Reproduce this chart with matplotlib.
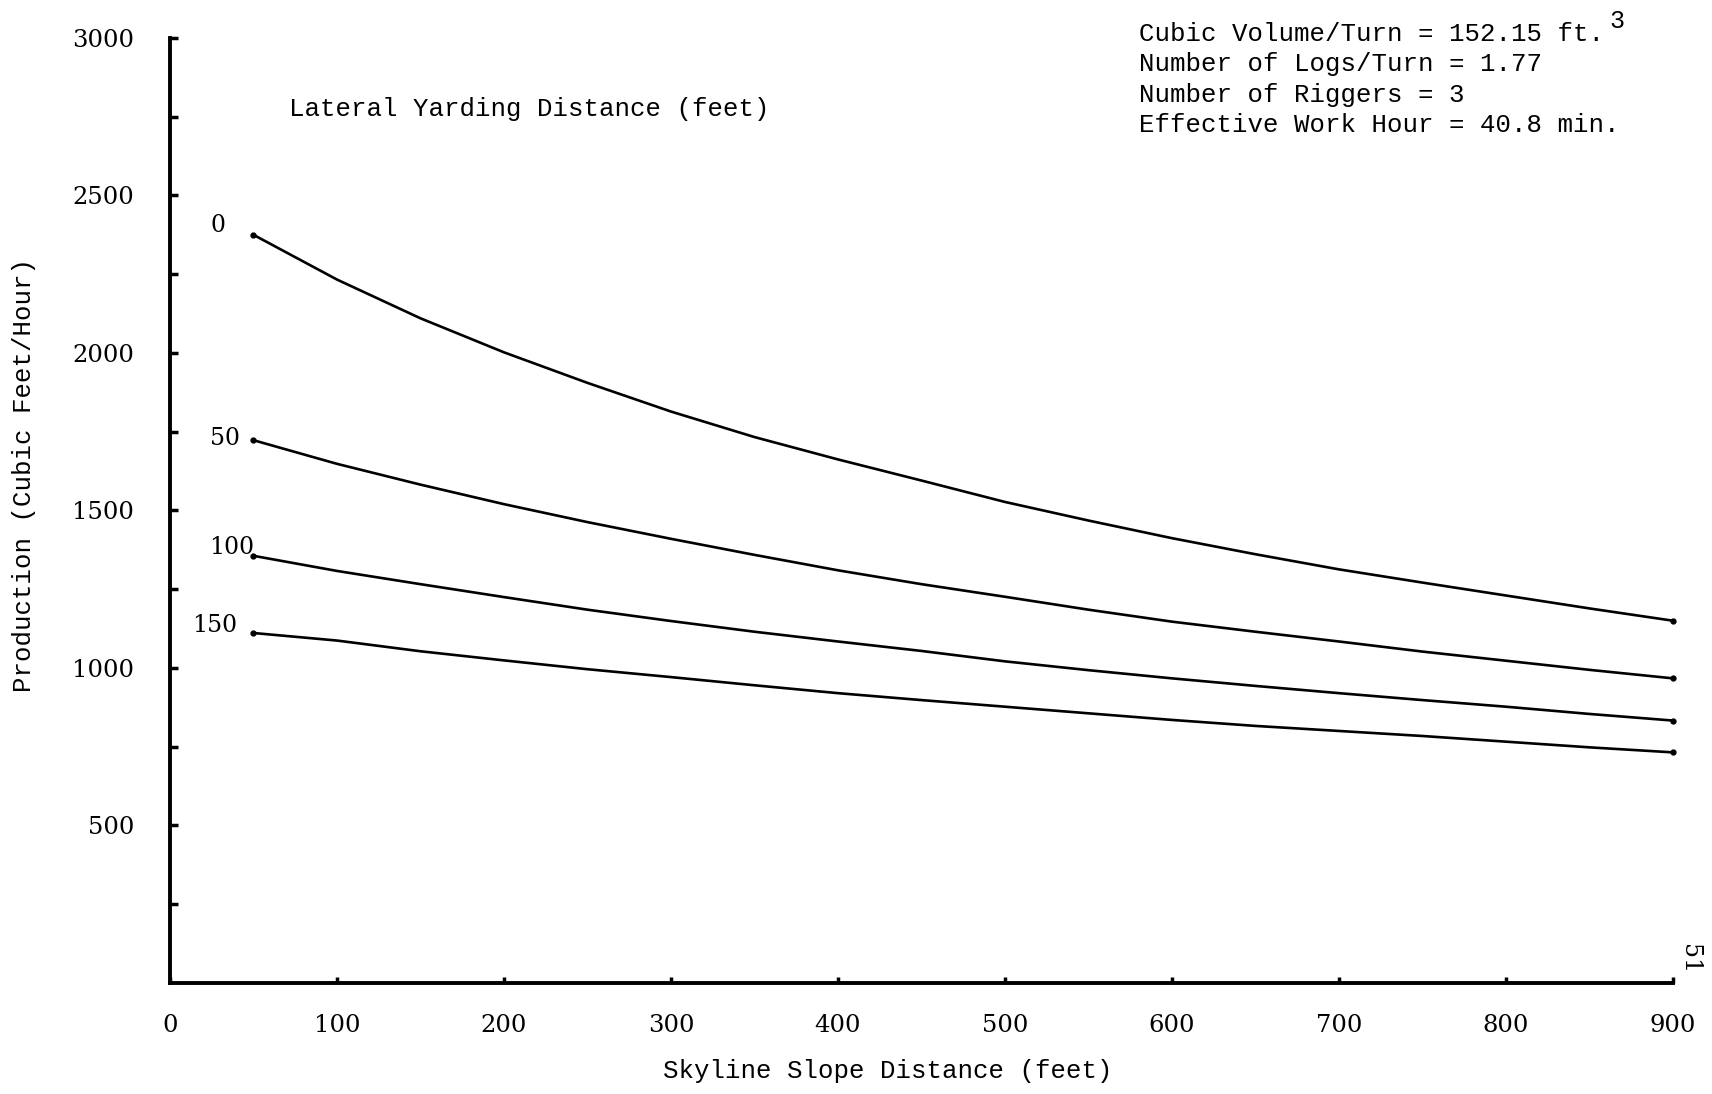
import matplotlib.pyplot as plt

# Skyline slope distance (feet) at which the curves were read
slope_dist = [50, 100, 150, 200, 250, 300, 350, 400, 450,
              500, 550, 600, 650, 700, 750, 800, 850, 900]

# Production (cu ft / hour) for each lateral yarding distance
lateral = ['0', '50', '100', '150']
prod_0 = [2375, 2233, 2110, 2002, 1905, 1814, 1733, 1662, 1595,
          1527, 1468, 1412, 1361, 1313, 1271, 1230, 1189, 1150]
prod_50 = [1723, 1648, 1582, 1520, 1463, 1410, 1359, 1310, 1266,
           1226, 1185, 1147, 1115, 1084, 1052, 1023, 994, 967]
prod_100 = [1356, 1308, 1266, 1225, 1185, 1149, 1115, 1084, 1054,
            1021, 993, 967, 943, 920, 898, 877, 854, 833]
prod_150 = [1111, 1087, 1053, 1024, 996, 971, 945, 920, 898,
            877, 856, 835, 816, 800, 784, 766, 748, 732]
curves = [prod_0, prod_50, prod_100, prod_150]

# where each lateral-distance label sits (x, y in data units)
label_pos = [(29, 2404), (33, 1727), (37, 1384), (27, 1134)]

info_lines = ['Cubic Volume/Turn = 152.15 ft.',
              'Number of Logs/Turn = 1.77',
              'Number of Riggers = 3',
              'Effective Work Hour = 40.8 min.']

y_ticks = list(range(250, 3001, 250))
y_ticklabels = [str(v) if v % 500 == 0 else '' for v in y_ticks]
x_ticks = list(range(0, 901, 100))

mono = 'Liberation Mono'
digits = 'DejaVu Serif'

fig = plt.figure(figsize=(17.12, 10.94), dpi=100)
ax = fig.add_axes([0.0993, 0.1015, 0.8779, 0.8638])

for vals in curves:
    ax.plot(slope_dist, vals, color='black', lw=1.9, marker='o', ms=3.5,
            markevery=[0, len(vals) - 1], clip_on=False)

for lab, (lx, ly) in zip(lateral, label_pos):
    ax.text(lx, ly, lab, fontsize=17, family=digits, ha='center', va='center')

ax.text(71, 2775, 'Lateral Yarding Distance (feet)', fontsize=18.5,
        family=mono, ha='left', va='center')

ax.set_xlim(0, 900)
ax.set_ylim(0, 3000)
for side in ['top', 'right']:
    ax.spines[side].set_visible(False)
for side in ['left', 'bottom']:
    ax.spines[side].set_linewidth(2.8)

ax.set_yticks(y_ticks)
ax.set_yticklabels(y_ticklabels, fontsize=17.5, family=digits)
ax.set_xticks(x_ticks)
ax.set_xticklabels([str(v) for v in x_ticks], fontsize=17.5, family=digits)
ax.tick_params(axis='y', direction='in', length=6, width=2.5, pad=26)
ax.tick_params(axis='x', direction='in', length=4, width=2.5, pad=22)

fig.text(0.014, 0.566, 'Production (Cubic Feet/Hour)', rotation=90,
         fontsize=18.5, family=mono, ha='center', va='center')
fig.text(0.5187, 0.021, 'Skyline Slope Distance (feet)', fontsize=18.5,
         family=mono, ha='center', va='center')

for i, line in enumerate(info_lines):
    fig.text(0.6653, 1 - (34 + 30.5 * i) / 1094, line, fontsize=18.5,
             family=mono, ha='left', va='center')
fig.text(0.9445, 0.981, '3', fontsize=18, family=mono, ha='center', va='center')

# page number
fig.text(0.9866, 0.1234, '51', rotation=-90, fontsize=17, family=digits,
         ha='center', va='center')

fig.savefig('out.png', dpi=100, facecolor='white')
